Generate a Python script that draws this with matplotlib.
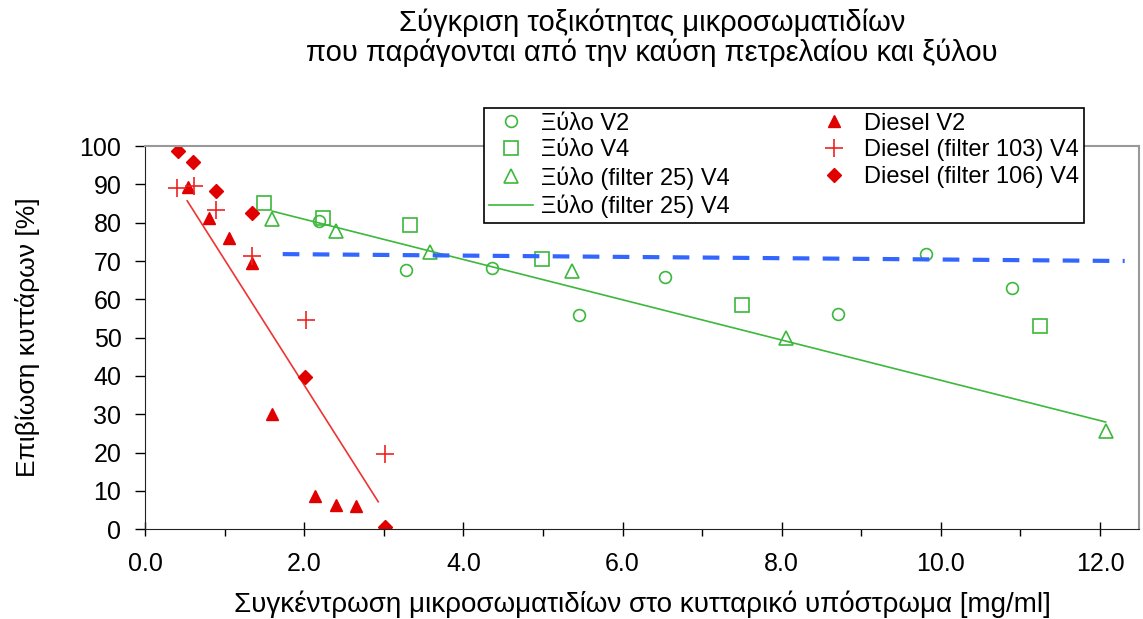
import numpy as np
import matplotlib.pyplot as plt
from matplotlib.ticker import MultipleLocator, FormatStrFormatter

plt.rcParams['font.family'] = ['Liberation Sans', 'DejaVu Sans']

# Ξύλο V2 (circles)
wood_v2_x = [2.18, 3.28, 4.36, 5.45, 6.54, 8.71, 9.81, 10.90]
wood_v2_y = [80.4, 67.6, 68.1, 56.0, 65.7, 56.2, 71.9, 63.0]
# Ξύλο V4 (squares)
wood_v4_x = [1.49, 2.24, 3.33, 4.99, 7.50, 11.24]
wood_v4_y = [85.2, 81.3, 79.4, 70.5, 58.4, 53.0]
# Ξύλο (filter 25) V4 (triangles)
wood_f25_x = [1.60, 2.40, 3.58, 5.36, 8.06, 12.07]
wood_f25_y = [81.0, 77.8, 72.3, 67.5, 50.0, 25.7]
# trend lines (end points)
wood_f25_line_x = [1.60, 12.07]
wood_f25_line_y = [83.0, 28.0]
blue_line_x = [1.73, 12.31]
blue_line_y = [71.8, 70.0]
red_line_x = [0.53, 2.93]
red_line_y = [85.7, 7.2]

# Diesel V2 (filled triangles)
diesel_v2_x = [0.54, 0.80, 1.06, 1.34, 1.60, 2.13, 2.40, 2.65]
diesel_v2_y = [89.3, 81.2, 76.1, 69.4, 30.0, 8.8, 6.4, 6.1]
# Diesel (filter 103) V4 (crosses)
diesel_f103_x = [0.40, 0.62, 0.89, 1.34, 2.02, 3.02]
diesel_f103_y = [89.1, 89.7, 83.2, 71.3, 54.6, 19.6]
# Diesel (filter 106) V4 (diamonds)
diesel_f106_x = [0.41, 0.60, 0.89, 1.34, 2.01, 3.01]
diesel_f106_y = [98.6, 95.8, 88.3, 82.6, 39.7, 0.5]

green = '#3cb83c'
red = '#e00000'

fig = plt.figure(figsize=(11.43, 6.19), dpi=100)
ax = fig.add_axes([0.1269, 0.1449, 0.8696, 0.6192])

h1, = ax.plot(wood_v2_x, wood_v2_y, 'o', ms=8.5, mfc='none', mec=green, mew=1.2, ls='none')
h2, = ax.plot(wood_v4_x, wood_v4_y, 's', ms=9.5, mfc='none', mec=green, mew=1.2, ls='none')
h3, = ax.plot(wood_f25_x, wood_f25_y, '^', ms=10, mfc='none', mec=green, mew=1.2, ls='none')
h4, = ax.plot(wood_f25_line_x, wood_f25_line_y, '-', color=green, lw=1.2)
ax.plot(blue_line_x, blue_line_y, '--', color='#3366ff', lw=3, dashes=(4, 3.2))
ax.plot(red_line_x, red_line_y, '-', color='#ee3333', lw=1.2)
h5, = ax.plot(diesel_v2_x, diesel_v2_y, '^', ms=9, color=red, mec=red, ls='none')
h6, = ax.plot(diesel_f103_x, diesel_f103_y, '+', ms=13, color='#ee2222', mew=1.2, ls='none')
h7, = ax.plot(diesel_f106_x, diesel_f106_y, 'D', ms=7.5, color=red, mec=red, ls='none')

ax.set_xlim(0, 12.49)
ax.set_ylim(0, 100)
ax.xaxis.set_major_locator(MultipleLocator(2))
ax.xaxis.set_minor_locator(MultipleLocator(1))
ax.xaxis.set_major_formatter(FormatStrFormatter('%.1f'))
ax.yaxis.set_major_locator(MultipleLocator(10))
ax.tick_params(axis='x', which='major', direction='inout', length=10, width=1, labelsize=18, pad=11)
ax.tick_params(axis='x', which='minor', direction='out', length=5, width=1)
ax.tick_params(axis='y', direction='out', length=7, width=1, labelsize=18, pad=10)
for s in ['left', 'bottom']:
    ax.spines[s].set_color('#222222')
for s in ['top', 'right']:
    ax.spines[s].set_color('#999999')
    ax.spines[s].set_linewidth(1.5)

ax.set_xlabel('Συγκέντρωση μικροσωματιδίων στο κυτταρικό υπόστρωμα [mg/ml]', fontsize=20, labelpad=11)
ax.set_ylabel('Επιβίωση κυττάρων [%]', fontsize=19, va='center')
ax.yaxis.set_label_coords(-0.118, 0.5)

fig.text(0.5705, 0.987, 'Σύγκριση τοξικότητας μικροσωματιδίων\nπου παράγονται από την καύση πετρελαίου και ξύλου',
         ha='center', va='top', fontsize=21, linespacing=1.1)

leg = fig.legend([h1, h2, h3, h4, h5, h6, h7],
                 ['Ξύλο V2', 'Ξύλο V4', 'Ξύλο (filter 25) V4', 'Ξύλο (filter 25) V4',
                  'Diesel V2', 'Diesel (filter 103) V4', 'Diesel (filter 106) V4'],
                 loc='upper left', bbox_to_anchor=(0.4234, 0.8255), ncol=2, fontsize=17,
                 frameon=True, fancybox=False, edgecolor='black', framealpha=1,
                 borderpad=0.2, labelspacing=0.2, handlelength=1.86, handletextpad=0.34,
                 columnspacing=3.5, borderaxespad=0)
leg.get_frame().set_linewidth(1.2)

fig.savefig('out.png', dpi=100)
